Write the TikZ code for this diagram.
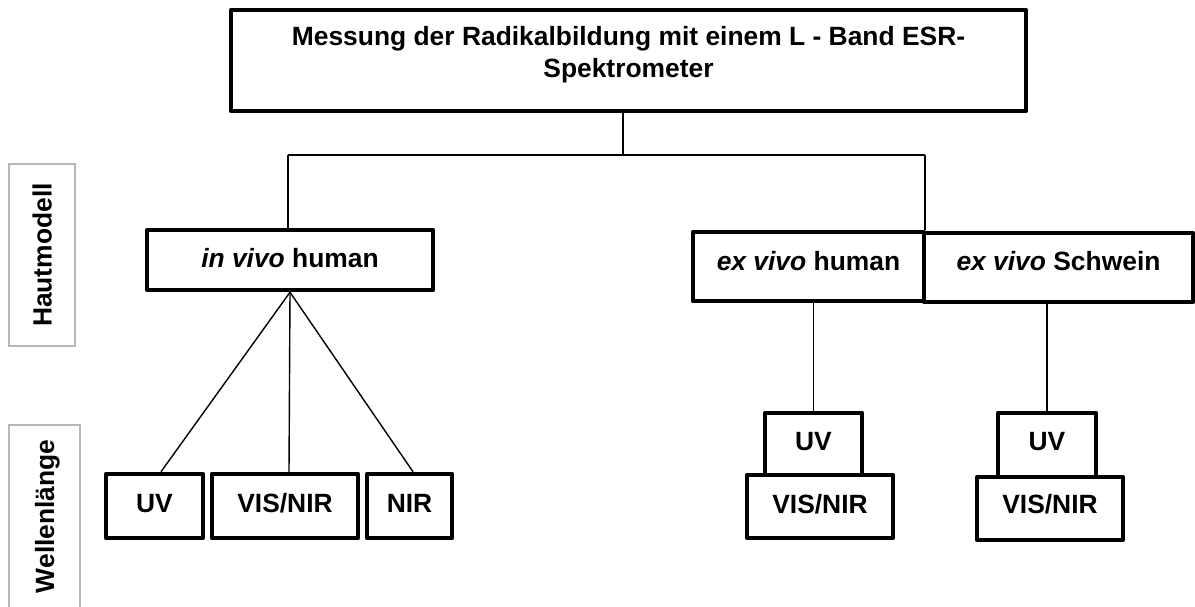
\documentclass[tikz,border=0pt]{standalone}
\usepackage{fontspec}
\setmainfont{Liberation Sans}
\begin{document}
\begin{tikzpicture}[x=1pt,y=-1pt,
  every node/.style={font=\fontsize{26.4}{32}\selectfont\bfseries, inner sep=0pt, text height=19pt, text depth=0pt},
  box/.style={draw=black, line width=4.5pt, line join=round, fill=white, rectangle},
  side/.style={draw=black!28, line width=1.5pt, rectangle, rotate=90},
  conn/.style={line width=1.4pt, draw=black}]
\useasboundingbox (0,0) rectangle (1195,606);
% side labels
\node[side, minimum width=182pt, minimum height=66pt] (haut) at (42,255) {Hautmodell};
\node[side, minimum width=182.5pt, minimum height=71pt] (wellen) at (44.5,516.25) {Wellenlänge};
% top box
\node[box, minimum width=795pt, minimum height=101pt] (top) at (628.5,60.5) {};
\node[align=center, text height=, text depth=, anchor=base] (toptext) at (628.5,77) {Messung der Radikalbildung mit einem L - Band ESR-\\Spektrometer};
% hub coordinates
\coordinate (hm) at (623,155);
\coordinate (hl) at (288,155);
\coordinate (hr) at (925,155);
% second level
\node[box, minimum width=286pt, minimum height=60pt, text depth=4pt] (invivo) at (290,260) {\textit{in vivo} human};
\node[box, minimum width=231pt, minimum height=69pt, text depth=12pt] (exh) at (808.5,266.5) {\textit{ex vivo} human};
\node[box, minimum width=269pt, minimum height=69pt, text depth=14pt] (exs) at (1058.5,267.5) {\textit{ex vivo} Schwein};
% wavelengths left
\node[box, minimum width=97pt, minimum height=64pt, text depth=7pt] (uvA) at (154.5,506) {UV};
\node[box, minimum width=146pt, minimum height=64pt, text depth=7pt] (visA) at (285,506) {VIS/NIR};
\node[box, minimum width=85pt, minimum height=64pt, text depth=7pt] (nirA) at (409.5,506) {NIR};
% wavelengths right stacks
\node[box, minimum width=97pt, minimum height=62pt, text depth=7pt] (uvB) at (813.5,444) {UV};
\node[box, minimum width=146pt, minimum height=63pt, text depth=6pt] (visB) at (820,506.5) {VIS/NIR};
\node[box, minimum width=98pt, minimum height=64pt, text depth=8pt] (uvC) at (1047,445) {UV};
\node[box, minimum width=146pt, minimum height=63pt, text depth=10pt] (visC) at (1050,508.5) {VIS/NIR};
% connectors
\draw[conn] (top.south -| hm) -- (hm);
\draw[conn] (hl) -- (hr);
\draw[conn] (hl) -- (invivo.north -| hl);
\draw[conn] (hr) -- (exh.north -| hr);
\draw[conn] (invivo.south) -- ([xshift=6.5pt]uvA.north);
\draw[conn] (invivo.south) -- ([xshift=4pt]visA.north);
\draw[conn] (invivo.south) -- ([xshift=3.5pt]nirA.north);
\draw[conn] (uvB.north |- exh.south) -- (uvB.north);
\draw[conn] (uvC.north |- exs.south) -- (uvC.north);
\end{tikzpicture}
\end{document}
